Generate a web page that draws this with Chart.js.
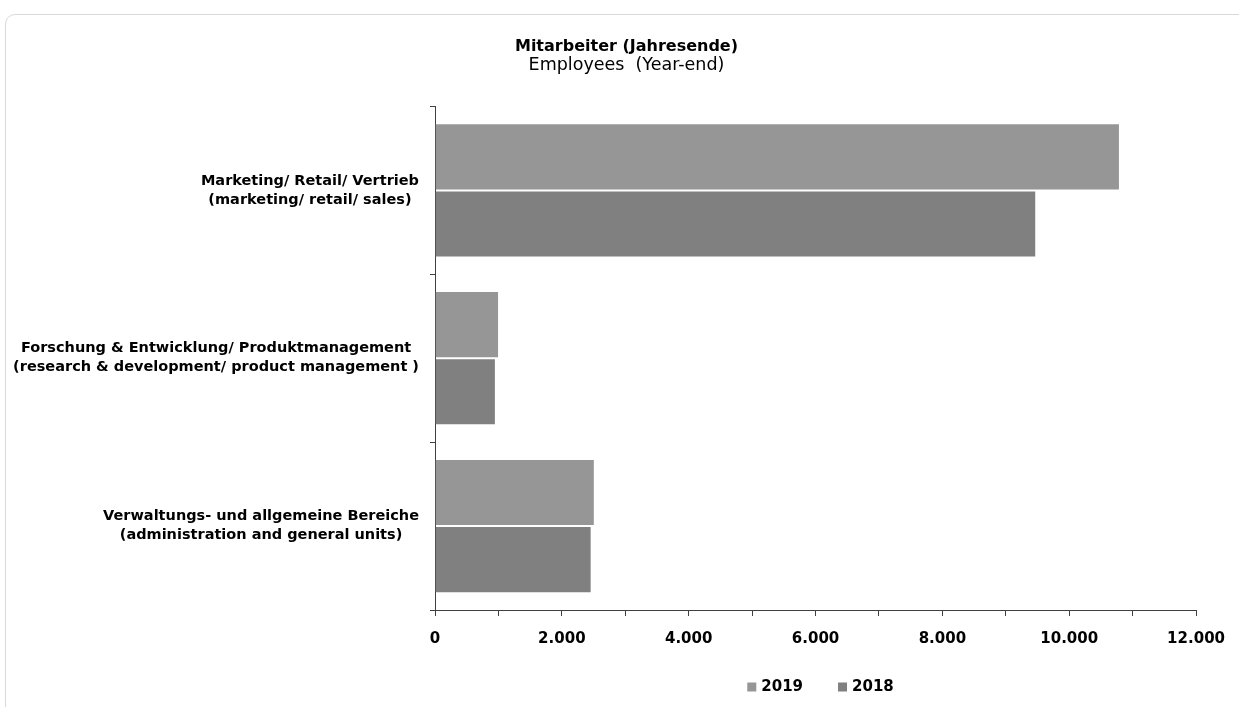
<!DOCTYPE html>
<html>
<head>
<meta charset="utf-8">
<script src="https://cdn.jsdelivr.net/npm/chart.js@4/dist/chart.umd.min.js"></script>
<style>
  html, body { margin: 0; padding: 0; background: #fff; }
  #wrap { position: relative; width: 1239px; height: 707px; overflow: hidden; }
  #frame { position: absolute; left: 5px; top: 14px; width: 1260px; height: 720px;
           border: 1px solid #d9d9d9; border-radius: 10px; }
  canvas { position: absolute; left: 0; top: 0; }
</style>
</head>
<body>
<div id="wrap">
  <div id="frame"></div>
  <canvas id="chart" width="1239" height="707"></canvas>
</div>
<script>
// Kategorien (zweizeilig)
const categories = [
    ['Marketing/ Retail/ Vertrieb', '(marketing/ retail/ sales)'],
    ['Forschung & Entwicklung/ Produktmanagement', '(research & development/ product management )'],
    ['Verwaltungs- und allgemeine Bereiche', '(administration and general units)']
];
// Werte je Jahr
const values2019 = [10800, 1010, 2520];
const values2018 = [9480, 960, 2470];
const seriesNames = ['2019', '2018'];
const seriesColors = ['#969696', '#808080'];

const FONT = 'DejaVu Sans';

// Zahlen mit Punkt als Tausendertrennzeichen
function formatNumber(v) {
    return String(v).replace(/\B(?=(\d{3})+(?!\d))/g, '.');
}

// Achsenbeschriftung der Kategorien: Block rechtsbündig, Zeilen zentriert
const categoryLabels = {
    id: 'categoryLabels',
    afterDraw(chart) {
        const ctx = chart.ctx;
        const yScale = chart.scales.y;
        ctx.save();
        ctx.font = 'bold 14.5px "' + FONT + '"';
        ctx.fillStyle = '#000';
        ctx.textAlign = 'center';
        ctx.textBaseline = 'middle';
        const lineH = 19;
        categories.forEach((lines, i) => {
            const y = yScale.getPixelForTick(i);
            const maxW = Math.max(...lines.map(l => ctx.measureText(l).width));
            const cx = yScale.right - 16 - maxW / 2;
            lines.forEach((l, j) => {
                ctx.fillText(l, cx, y + (j - (lines.length - 1) / 2) * lineH);
            });
        });
        ctx.restore();
    }
};

// Legende unten, zentriert unter der Zeichenfläche
const bottomLegend = {
    id: 'bottomLegend',
    afterDraw(chart) {
        const ctx = chart.ctx;
        const area = chart.chartArea;
        ctx.save();
        ctx.font = 'bold 15px "' + FONT + '"';
        ctx.textBaseline = 'middle';
        ctx.textAlign = 'left';
        const box = 9, gapText = 5, gapItem = 35;
        const items = chart.data.datasets.map(ds => ({
            text: ds.label, color: ds.backgroundColor, w: ctx.measureText(ds.label).width
        }));
        let total = 0;
        items.forEach((it, i) => { total += box + gapText + it.w + (i < items.length - 1 ? gapItem : 0); });
        let x = (area.left + area.right) / 2 - total / 2 + 5;
        const y = 687;
        items.forEach(it => {
            ctx.fillStyle = it.color;
            ctx.fillRect(x, y - box / 2, box, box);
            x += box + gapText;
            ctx.fillStyle = '#000';
            ctx.fillText(it.text, x, y);
            x += it.w + gapItem;
        });
        ctx.restore();
    }
};

new Chart(document.getElementById('chart'), {
    type: 'bar',
    data: {
        labels: categories.map(c => c.join(' ')),
        datasets: [
            { label: seriesNames[0], data: values2019, backgroundColor: seriesColors[0],
              borderColor: 'rgba(255,255,255,0.2)', borderWidth: 1 },
            { label: seriesNames[1], data: values2018, backgroundColor: seriesColors[1],
              borderColor: 'rgba(255,255,255,0.2)', borderWidth: 1 }
        ]
    },
    options: {
        indexAxis: 'y',
        responsive: false,
        animation: false,
        devicePixelRatio: 1,
        layout: { padding: { left: 56, right: 42, top: 0, bottom: 57 } },
        datasets: { bar: { categoryPercentage: 0.8, barPercentage: 1.0 } },
        plugins: {
            legend: { display: false },
            tooltip: { enabled: false },
            title: {
                display: true,
                text: 'Mitarbeiter (Jahresende)',
                color: '#000',
                font: { family: FONT, size: 16, weight: 'bold' },
                padding: { top: 37, bottom: 0 }
            },
            subtitle: {
                display: true,
                text: 'Employees  (Year-end)',
                color: '#000',
                font: { family: FONT, size: 17.5, weight: 'normal', lineHeight: 1.1 },
                padding: { top: 0, bottom: 31 }
            }
        },
        scales: {
            x: {
                min: 0,
                max: 12000,
                afterFit(scale) { scale.height = 40; },
                border: { color: '#404040', width: 1 },
                grid: { drawOnChartArea: false, tickLength: 6, color: '#404040' },
                ticks: {
                    stepSize: 1000,
                    padding: 14,
                    autoSkip: false,
                    maxRotation: 0,
                    color: '#000',
                    font: { family: FONT, size: 15, weight: 'bold' },
                    callback: v => (v % 2000 === 0 ? formatNumber(v) : '')
                }
            },
            y: {
                afterFit(scale) { scale.width = 379; },
                border: { color: '#404040', width: 1 },
                grid: { drawOnChartArea: false, offset: true, tickLength: 5, color: '#404040' },
                ticks: { display: false }
            }
        }
    },
    plugins: [categoryLabels, bottomLegend]
});
</script>
</body>
</html>
